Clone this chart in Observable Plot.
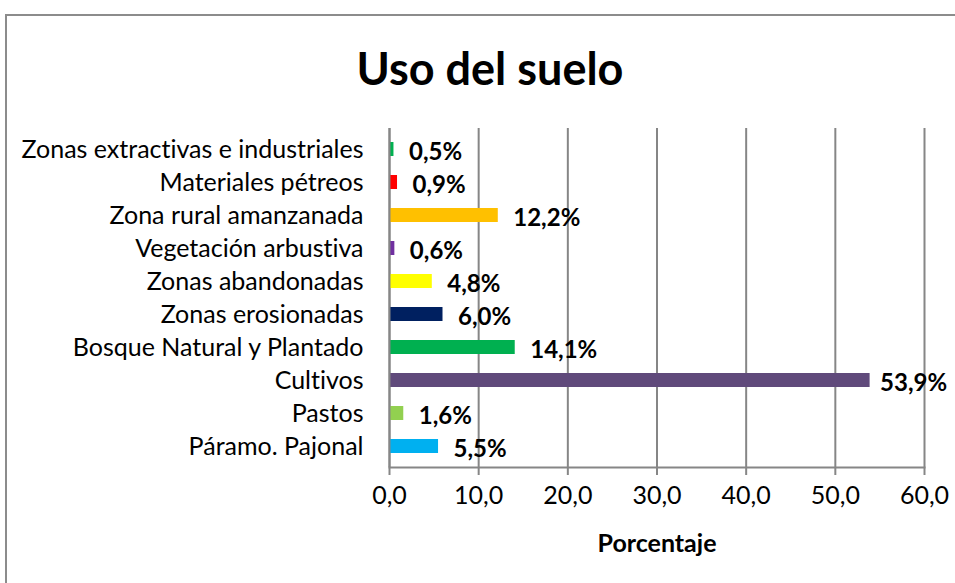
<!DOCTYPE html>
<html>
<head>
<meta charset="utf-8">
<script src="https://cdn.jsdelivr.net/npm/d3@7"></script>
<script src="https://cdn.jsdelivr.net/npm/@observablehq/plot@0.6"></script>
<style>
  html, body { margin: 0; padding: 0; background: #fff; }
  body { width: 955px; height: 583px; position: relative; overflow: hidden; font-family: Lato, "Open Sans", sans-serif; font-variant-ligatures: none; }
  svg, svg text { font-variant-ligatures: none; font-feature-settings: "liga" 0, "clig" 0; }
  #frame { position: absolute; left: 5px; top: 14px; width: 1000px; height: 1000px; border-left: 2px solid #8c8c8c; border-top: 2px solid #8c8c8c; box-sizing: border-box; }
  #title { position: absolute; left: 0; top: 40px; width: 980px; text-align: center; font-size: 45px; font-weight: bold; color: #000; line-height: 56px; }
  #chart { position: absolute; left: 0; top: 0; }
  g[aria-label="x-axis label"] text { font-weight: bold; font-size: 25px; }
</style>
</head>
<body>
<div id="frame"></div>
<div id="chart"></div>
<div id="title">Uso del suelo</div>
<script>
const categories = [
  "Zonas extractivas e industriales",
  "Materiales pétreos",
  "Zona rural amanzanada",
  "Vegetación arbustiva",
  "Zonas abandonadas",
  "Zonas erosionadas",
  "Bosque Natural y Plantado",
  "Cultivos",
  "Pastos",
  "Páramo. Pajonal"
];
const values = [0.5, 0.9, 12.2, 0.6, 4.8, 6.0, 14.1, 53.9, 1.6, 5.5];
const colors = ["#00B050", "#FF0000", "#FFC000", "#7030A0", "#FFFF00", "#002060", "#00B050", "#604A7B", "#92D050", "#00B0F0"];
const xTicks = [0, 10, 20, 30, 40, 50, 60];
const xLabel = "Porcentaje";

const data = categories.map((c, i) => ({cat: c, value: values[i], color: colors[i]}));
const fmt = v => v.toFixed(1).replace(".", ",");

const chart = Plot.plot({
  width: 955,
  height: 583,
  marginLeft: 389,
  marginRight: 31,
  marginTop: 128,
  marginBottom: 116,
  style: {fontFamily: "Lato, 'Open Sans', sans-serif", color: "#000", background: "transparent"},
  x: {domain: [0, 60]},
  y: {domain: categories, paddingInner: 0.58, paddingOuter: 0.29},
  marks: [
    Plot.gridX(xTicks, {stroke: "#868686", strokeOpacity: 1, strokeWidth: 2}),
    Plot.barX(data, {x: "value", y: "cat", fill: d => d.color}),
    Plot.text(data.filter(d => d.value < 50), {x: "value", y: "cat", text: d => fmt(d.value) + "%", dx: 15, dy: 3, textAnchor: "start", fontWeight: "bold", fontSize: 24, fill: "#000"}),
    Plot.text(data.filter(d => d.value >= 50), {x: "value", y: "cat", text: d => fmt(d.value) + "%", dx: 10, dy: 3, textAnchor: "start", fontWeight: "bold", fontSize: 24, fill: "#000"}),
    Plot.axisX({ticks: xTicks, tickFormat: fmt, tickSize: 8, tickPadding: 11, fontSize: 25, stroke: "#868686", strokeWidth: 2, label: xLabel, labelAnchor: "center", labelArrow: "none", labelOffset: 84}),
    Plot.axisY({tickSize: 0, tickPadding: 26, fontSize: 25, label: null}),
    Plot.ruleX([0], {stroke: "#868686", strokeWidth: 2}),
    Plot.frame({anchor: "bottom", stroke: "#868686", strokeWidth: 2})
  ]
});
document.getElementById("chart").appendChild(chart);
</script>
</body>
</html>
